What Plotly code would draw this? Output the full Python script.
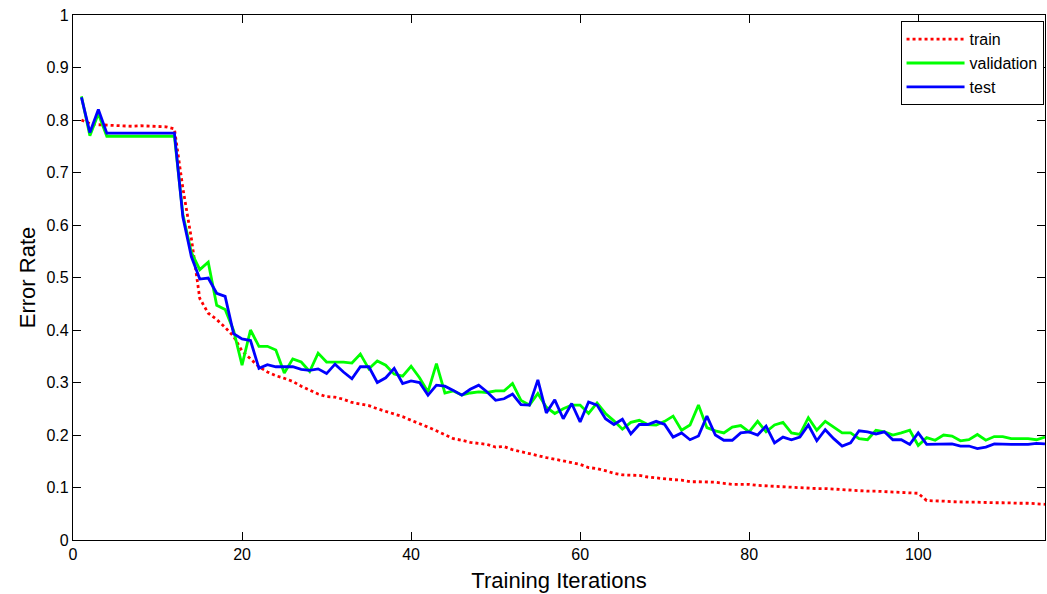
import plotly.graph_objects as go

iterations = list(range(1, 116))

train = [
    0.800, 0.793, 0.791, 0.790, 0.789, 0.788, 0.788, 0.789, 0.788, 0.788,
    0.787, 0.783, 0.670, 0.575, 0.460, 0.432, 0.420, 0.405, 0.388, 0.360,
    0.345, 0.330, 0.320, 0.313, 0.308, 0.302, 0.293, 0.285, 0.278, 0.273,
    0.272, 0.268, 0.262, 0.259, 0.256, 0.250, 0.245, 0.240, 0.235, 0.228,
    0.222, 0.215, 0.208, 0.200, 0.193, 0.190, 0.186, 0.184, 0.182, 0.177,
    0.178, 0.172, 0.168, 0.165, 0.160, 0.157, 0.154, 0.151, 0.147, 0.144,
    0.138, 0.136, 0.132, 0.127, 0.124, 0.124, 0.123, 0.120, 0.118, 0.117,
    0.115, 0.114, 0.111, 0.111, 0.111, 0.110, 0.108, 0.106, 0.106, 0.106,
    0.104, 0.103, 0.102, 0.101, 0.100, 0.100, 0.099, 0.098, 0.098, 0.097,
    0.096, 0.095, 0.093, 0.093, 0.093, 0.092, 0.092, 0.091, 0.090, 0.089,
    0.075, 0.075, 0.074, 0.073, 0.072, 0.072, 0.072, 0.071, 0.071, 0.071,
    0.070, 0.070, 0.070, 0.069, 0.068,
]

validation = [
    0.845, 0.770, 0.812, 0.769, 0.769, 0.769, 0.769, 0.769, 0.769, 0.769,
    0.769, 0.769, 0.620, 0.548, 0.515, 0.529, 0.447, 0.439, 0.399, 0.333,
    0.400, 0.369, 0.369, 0.362, 0.318, 0.345, 0.339, 0.321, 0.356, 0.339,
    0.339, 0.339, 0.337, 0.354, 0.326, 0.341, 0.333, 0.316, 0.312, 0.331,
    0.309, 0.282, 0.336, 0.280, 0.284, 0.276, 0.280, 0.282, 0.281, 0.284,
    0.284, 0.298, 0.266, 0.257, 0.279, 0.253, 0.241, 0.250, 0.257, 0.257,
    0.241, 0.261, 0.241, 0.227, 0.211, 0.224, 0.228, 0.220, 0.219, 0.226,
    0.236, 0.209, 0.219, 0.257, 0.214, 0.208, 0.204, 0.215, 0.218, 0.206,
    0.226, 0.206, 0.219, 0.224, 0.204, 0.201, 0.233, 0.209, 0.226, 0.215,
    0.204, 0.204, 0.193, 0.191, 0.209, 0.206, 0.200, 0.204, 0.209, 0.180,
    0.195, 0.190, 0.200, 0.198, 0.189, 0.191, 0.201, 0.190, 0.197, 0.197,
    0.193, 0.193, 0.193, 0.191, 0.196,
]

test = [
    0.843, 0.776, 0.820, 0.775, 0.775, 0.775, 0.775, 0.775, 0.775, 0.775,
    0.775, 0.775, 0.615, 0.540, 0.497, 0.499, 0.470, 0.464, 0.393, 0.383,
    0.380, 0.327, 0.334, 0.330, 0.330, 0.330, 0.325, 0.323, 0.326, 0.317,
    0.335, 0.320, 0.307, 0.330, 0.330, 0.300, 0.309, 0.327, 0.298, 0.303,
    0.300, 0.276, 0.295, 0.293, 0.285, 0.276, 0.287, 0.295, 0.282, 0.266,
    0.269, 0.278, 0.258, 0.257, 0.305, 0.242, 0.267, 0.231, 0.260, 0.225,
    0.263, 0.257, 0.231, 0.220, 0.230, 0.202, 0.220, 0.220, 0.226, 0.220,
    0.196, 0.204, 0.191, 0.198, 0.236, 0.200, 0.190, 0.190, 0.204, 0.206,
    0.200, 0.217, 0.185, 0.196, 0.191, 0.196, 0.219, 0.189, 0.210, 0.193,
    0.179, 0.185, 0.208, 0.206, 0.202, 0.206, 0.191, 0.191, 0.182, 0.204,
    0.182, 0.182, 0.182, 0.183, 0.179, 0.179, 0.174, 0.177, 0.183, 0.182,
    0.182, 0.182, 0.182, 0.184, 0.183,
]

x_ticks = [0, 20, 40, 60, 80, 100]
y_ticks = [0, 0.1, 0.2, 0.3, 0.4, 0.5, 0.6, 0.7, 0.8, 0.9, 1]
y_tick_labels = ["0", "0.1", "0.2", "0.3", "0.4", "0.5", "0.6", "0.7", "0.8", "0.9", "1"]

FONT = "Liberation Sans, Arial, sans-serif"

fig = go.Figure()
fig.add_trace(go.Scatter(x=iterations, y=train, mode="lines", name="train",
                         line=dict(color="#FF0000", width=2.8, dash="3px,3px")))
fig.add_trace(go.Scatter(x=iterations, y=validation, mode="lines", name="validation",
                         line=dict(color="#00FF00", width=2.8)))
fig.add_trace(go.Scatter(x=iterations, y=test, mode="lines", name="test",
                         line=dict(color="#0000FF", width=2.8)))

axis_common = dict(
    showgrid=False, zeroline=False, showline=True, linecolor="black", linewidth=1.3,
    mirror="allticks", ticks="inside", ticklen=8, tickwidth=1, tickcolor="black",
    tickfont=dict(family=FONT, size=16, color="black"), automargin=False,
)

fig.update_layout(
    width=1047, height=594,
    margin=dict(l=73, r=2, t=15, b=54, autoexpand=False),
    paper_bgcolor="white", plot_bgcolor="white",
    font=dict(family=FONT, color="black"),
    xaxis=dict(range=[0, 115], tickvals=x_ticks,
               title=dict(text="Training Iterations", font=dict(family=FONT, size=22), standoff=10),
               **axis_common),
    yaxis=dict(range=[0, 1], tickvals=y_ticks, ticktext=y_tick_labels,
               title=dict(text="Error Rate", font=dict(family=FONT, size=22), standoff=4),
               **axis_common),
    legend=dict(x=0.9985, y=0.988, xanchor="right", yanchor="top",
                bgcolor="white", bordercolor="black", borderwidth=1,
                font=dict(family=FONT, size=16, color="black"),
                tracegroupgap=0, itemwidth=58),
    showlegend=True,
)

fig.write_html(
    "out.html",
    config={"displayModeBar": False},
    post_script="document.body.style.margin='0';document.body.style.padding='0';document.body.style.overflow='hidden';",
)
